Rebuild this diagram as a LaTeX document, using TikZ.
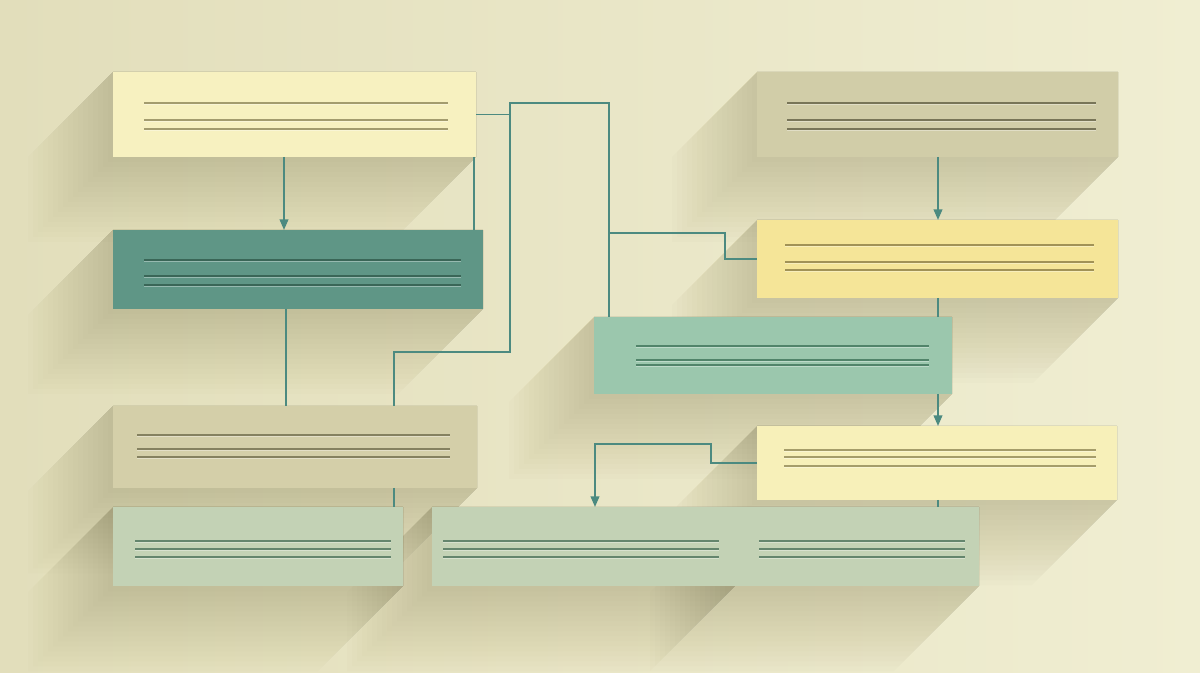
\documentclass[tikz,border=0pt]{standalone}
\usepackage{tikz}
\usetikzlibrary{arrows.meta,positioning}

\definecolor{paperL}{HTML}{E2DEBB}
\definecolor{paperR}{HTML}{F0EED2}
\definecolor{castshade}{HTML}{6A6338}
\definecolor{wire}{HTML}{4C8A80}
\definecolor{cream}{HTML}{F7F1C0}
\definecolor{tealbox}{HTML}{5F9686}
\definecolor{sandbox}{HTML}{D4CFA9}
\definecolor{sagebox}{HTML}{C3D2B5}
\definecolor{stonebox}{HTML}{D1CDA8}
\definecolor{goldbox}{HTML}{F5E598}
\definecolor{mintbox}{HTML}{9BC7AD}
\definecolor{lemonbox}{HTML}{F7F0B9}
\definecolor{creamink}{HTML}{A39C6E}
\definecolor{tealink}{HTML}{3A6657}
\definecolor{sandink}{HTML}{858160}
\definecolor{sageink}{HTML}{64856D}
\definecolor{stoneink}{HTML}{787558}
\definecolor{goldink}{HTML}{A19256}
\definecolor{mintink}{HTML}{51846A}
\definecolor{lemonink}{HTML}{A59D6A}

\begin{document}
\begin{tikzpicture}[x=0.75pt,y=0.75pt,yscale=-1,xscale=1,
  card/.style={inner sep=0pt,outer sep=0pt,draw=none},
  link/.style={color=wire,line width=1.4pt},
  tip/.style={-{Triangle[length=8pt,width=6.5pt]}},
  ink/.style={line width=1.3pt}]
\useasboundingbox (0,0) rectangle (1200,673);

%Background
\shade[left color=paperL,right color=paperR] (0,0) rectangle (1200,673);

\def\cards{cream/113/72/476/157/cream, teal/113/230/483/309/tealbox,
  sand/113/406/477/488/sandbox, sage/113/507/403/586/sagebox,
  sageB/432/507/735/586/sagebox, sageC/735/507/979/586/sagebox,
  stone/757/72/1118/157/stonebox, gold/757/220/1118/298/goldbox,
  mint/594/317/952/394/mintbox, lemon/757/426/1117/500/lemonbox}

%Long shadows
\foreach \nm/\xa/\ya/\xb/\yb/\col in \cards {
  \foreach \L in {5,10,...,85}
    \fill[castshade,fill opacity=0.015] (\xa,\ya) -- (\xb,\ya) -- (\xb,\yb) -- (\xb-\L,\yb+\L) -- (\xa-\L,\yb+\L) -- (\xa-\L,\ya+\L) -- cycle;
}

%Cards
\foreach \nm/\xa/\ya/\xb/\yb/\col in \cards {
  \pgfmathsetmacro\w{(\xb-\xa)*0.75}
  \pgfmathsetmacro\h{(\yb-\ya)*0.75}
  \node[card,fill=\col,anchor=north west,minimum width=\w pt,minimum height=\h pt] (\nm) at (\xa,\ya) {};
}

%Text stripes
\foreach \xa/\xb/\ya/\yb/\yc/\col in {144/448/103/120/129/creamink, 144/461/260/276/285/tealink,
  137/450/435/449/457/sandink, 135/391/541/549/557/sageink, 443/719/541/549/557/sageink,
  759/965/541/549/557/sageink, 787/1096/103/120/129/stoneink, 785/1094/245/262/270/goldink,
  636/929/346/360/365/mintink, 784/1096/450/457/466/lemonink}
  \foreach \y in {\ya,\yb,\yc} {
    \draw[ink,draw=white,draw opacity=0.35] (\xa,\y+1.6) -- (\xb,\y+1.6);
    \draw[ink,draw=\col] (\xa,\y) -- (\xb,\y);
  }

%Lanes and bends
\coordinate (laneA) at (284,0);
\coordinate (laneB) at (474,0);
\coordinate (laneE) at (286,0);
\coordinate (laneR) at (938,0);
\coordinate (j1) at (510,103);
\coordinate (j2) at (609,103);
\coordinate (j3) at (510,352);
\coordinate (j4) at (394,352);
\coordinate (j5) at (609,233);
\coordinate (j6) at (725,233);
\coordinate (n1) at (711,444);
\coordinate (n2) at (595,444);

%Connectors
\draw[link,tip] (cream.south -| laneA) -- (teal.north -| laneA);
\draw[link] (cream.south -| laneB) -- (teal.north -| laneB);
\draw[link] (cream.east) -- (cream.east -| j1);
\draw[link] (sand.north -| j4) -- (j4) -- (j3) -- (j1) -- (j2) -- (mint.north -| j2);
\draw[link] (j5) -- (j6) |- (gold.west);
\draw[link] (teal.south -| laneE) -- (sand.north -| laneE);
\draw[link] (sand.south -| j4) -- (sage.north -| j4);
\draw[link,tip] (stone.south -| laneR) -- (gold.north -| laneR);
\draw[link] (gold.south -| laneR) -- (mint.north -| laneR);
\draw[link,tip] (mint.south -| laneR) -- (lemon.north -| laneR);
\draw[link] (lemon.south -| laneR) -- (sageC.north -| laneR);
\draw[link,tip] (lemon.west) -| (n1) -- (n2) -- (sageB.north -| n2);

\end{tikzpicture}
\end{document}
